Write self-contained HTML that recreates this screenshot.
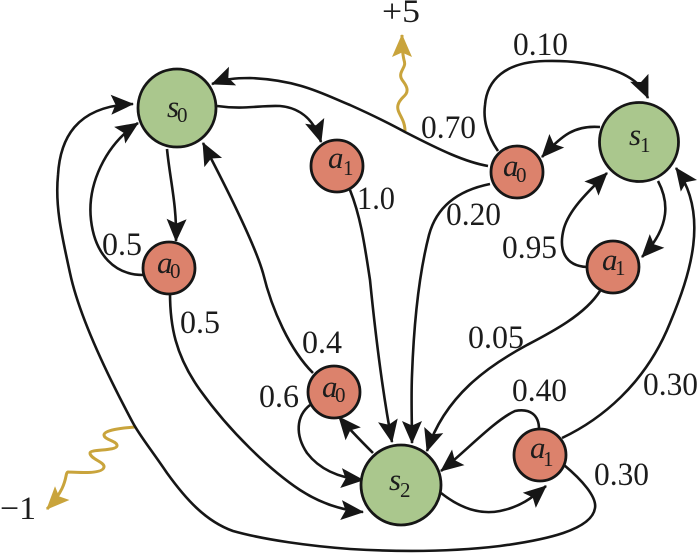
<!DOCTYPE html>
<html><head><meta charset="utf-8"><style>
html,body{margin:0;padding:0;background:#fff;width:700px;height:553px;overflow:hidden}
svg{display:block}
text{font-family:"Liberation Serif",serif;fill:#1c1c1c}
.l{font-size:33px}
.v{font-size:31px;font-style:italic}
.s{font-size:21px}
.e{fill:none;stroke:#161616;stroke-width:2.6;marker-end:url(#h)}
.g{fill:none;stroke:#c9a43c;stroke-width:3}
.st{fill:#aac78d;stroke:#161616;stroke-width:2.8}
.ac{fill:#dc826c;stroke:#161616;stroke-width:2.8}
</style></head><body>
<svg width="700" height="553" viewBox="0 0 700 553" xmlns="http://www.w3.org/2000/svg">
<defs>
<marker id="h" markerUnits="userSpaceOnUse" markerWidth="26" markerHeight="24" refX="22" refY="10" orient="auto" overflow="visible"><path d="M23,10 L0,0 L4.5,10 L0,20 Z" fill="#161616"/></marker>
<marker id="hg" markerUnits="userSpaceOnUse" markerWidth="26" markerHeight="24" refX="22" refY="10" orient="auto" overflow="visible"><path d="M23,10 L0,0 L4.5,10 L0,20 Z" fill="#c9a43c"/></marker>
</defs>

<!-- gold wavy -->
<path class="g" style="marker-end:url(#hg)" d="M405,131 C405,118 396,113 398,105 C400,97 408,96 407,89 C406,82 399,80 401,73 C403,67 406,66 404,60 C403,56 402,50 402,35"/>
<path class="g" style="marker-end:url(#hg)" d="M135,427 C122,428 104,430 104,435 C104,440 118,441 117,446 C116,451 90,449 90,453 C90,459 105,462 104,467 C103,475 72,472 68,472 C64,473 70,485 47,509"/>

<!-- edges -->
<path class="e" d="M217,106 C245,110 260,105 280,106 C302,108 315,122 321,142"/>
<path class="e" d="M350,190 C360,215 364,240 370,280 C376,340 384,400 392,442"/>
<path class="e" d="M488,166 C465,162 440,150 405,132 C385,121 370,114 350,105 C325,95 300,80 250,78 C235,78 225,79 212,84"/>
<path class="e" d="M498,151 C487,135 483,120 485,105 C487,80 505,62 545,61 C585,60 635,68 648,98"/>
<path class="e" d="M600,127 C575,125 562,135 542,157"/>
<path class="e" d="M490,184 C460,190 437,205 429,235 C420,270 414,320 412,375 C411,400 412,420 412,443"/>
<path class="e" d="M658,181 C668,200 672,225 642,257"/>
<path class="e" d="M587,267 C565,266 558,250 564,228 C570,208 590,190 607,173"/>
<path class="e" d="M600,291 C585,315 550,333 527,345 C490,365 445,395 427,451"/>
<path class="e" d="M562,438 C600,420 645,385 670,323 C690,275 710,215 676,168"/>
<path class="e" d="M539,429 C539,415 530,408 515,411 C495,420 465,452 441,471"/>
<path class="e" d="M441,493 C460,508 480,515 500,511 C520,507 532,498 546,486"/>
<path class="e" d="M564,465 C582,480 597,497 595,508 C592,530 545,540 500,546 C450,552 400,552 350,549 C310,546 265,540 233,531 C205,521 185,498 167,473 C150,448 140,436 133,423 C110,380 80,320 70,273 C61,232 55,205 58,175 C60,140 75,106 133,104"/>
<path class="e" d="M167,149 C170,180 177,205 176,241"/>
<path class="e" d="M143,275 C115,275 95,255 91,220 C87,185 105,145 138,123"/>
<path class="e" d="M170,293 C170,325 175,355 200,390 C230,432 270,470 300,490 C320,503 340,510 363,512"/>
<path class="e" d="M313,373 C290,350 272,310 263,273 C255,245 225,185 203,143"/>
<path class="e" d="M310,405 C296,416 295,435 307,453 C320,470 340,478 363,480"/>
<path class="e" d="M373,453 C362,442 350,430 339,417"/>

<!-- nodes -->
<circle class="st" cx="177" cy="108" r="39"/>
<circle class="st" cx="639" cy="142" r="39.5"/>
<circle class="st" cx="401" cy="485" r="40"/>
<circle class="ac" cx="337" cy="166" r="26"/>
<circle class="ac" cx="169" cy="268" r="26"/>
<circle class="ac" cx="334" cy="392" r="26"/>
<circle class="ac" cx="517" cy="172" r="26"/>
<circle class="ac" cx="613" cy="267" r="26"/>
<circle class="ac" cx="540" cy="455" r="26"/>

<!-- node labels -->
<text class="v" x="167" y="117">s</text><text class="s" x="177" y="122">0</text>
<text class="v" x="629" y="145">s</text><text class="s" x="640" y="152">1</text>
<text class="v" x="389" y="490">s</text><text class="s" x="400" y="497">2</text>
<text class="v" x="328" y="168">a</text><text class="s" x="343" y="175">1</text>
<text class="v" x="157" y="273">a</text><text class="s" x="170" y="278">0</text>
<text class="v" x="322" y="397">a</text><text class="s" x="335" y="402">0</text>
<text class="v" x="503" y="176">a</text><text class="s" x="516" y="182">0</text>
<text class="v" x="602" y="270">a</text><text class="s" x="615" y="275">1</text>
<text class="v" x="530" y="458">a</text><text class="s" x="543" y="466">1</text>

<!-- edge labels -->
<text class="l" x="382" y="22" textLength="38" lengthAdjust="spacingAndGlyphs">+5</text>
<text class="l" x="0" y="519" textLength="36" lengthAdjust="spacingAndGlyphs">−1</text>
<text class="l" x="513" y="55" textLength="55" lengthAdjust="spacingAndGlyphs">0.10</text>
<text class="l" x="421" y="138" textLength="55" lengthAdjust="spacingAndGlyphs">0.70</text>
<text class="l" x="357" y="209" textLength="38" lengthAdjust="spacingAndGlyphs">1.0</text>
<text class="l" x="446" y="225" textLength="55" lengthAdjust="spacingAndGlyphs">0.20</text>
<text class="l" x="502" y="258" textLength="55" lengthAdjust="spacingAndGlyphs">0.95</text>
<text class="l" x="102" y="255" textLength="40" lengthAdjust="spacingAndGlyphs">0.5</text>
<text class="l" x="180" y="333" textLength="40" lengthAdjust="spacingAndGlyphs">0.5</text>
<text class="l" x="302" y="353" textLength="40" lengthAdjust="spacingAndGlyphs">0.4</text>
<text class="l" x="259" y="407" textLength="40" lengthAdjust="spacingAndGlyphs">0.6</text>
<text class="l" x="468" y="348" textLength="56" lengthAdjust="spacingAndGlyphs">0.05</text>
<text class="l" x="512" y="401" textLength="55" lengthAdjust="spacingAndGlyphs">0.40</text>
<text class="l" x="643" y="395" textLength="55" lengthAdjust="spacingAndGlyphs">0.30</text>
<text class="l" x="594" y="485" textLength="55" lengthAdjust="spacingAndGlyphs">0.30</text>
</svg>
</body></html>
